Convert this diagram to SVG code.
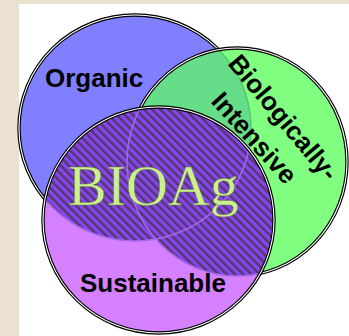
<svg xmlns="http://www.w3.org/2000/svg" width="349" height="336" viewBox="0 0 349 336">
  <style>
    .lbl { font-family: "Liberation Sans", Arial, sans-serif; font-weight: bold; font-size: 26px; fill: #000; }
    .outk { fill: none; stroke: #000; stroke-width: 3.4; }
    .outw { fill: none; stroke: #fff; stroke-width: 1.1; }
    .faint { fill: none; stroke-width: 1.6; }
  </style>
  <defs>
    <ellipse id="eB" cx="135" cy="128" rx="116" ry="113"/>
    <ellipse id="eG" cx="237" cy="162" rx="110" ry="114"/>
    <ellipse id="eP" cx="158.5" cy="220" rx="115.5" ry="113"/>
    <clipPath id="cG"><use href="#eG"/></clipPath>
    <clipPath id="cP"><use href="#eP"/></clipPath>
    <pattern id="hatch" patternUnits="userSpaceOnUse" width="5.8" height="5.8" patternTransform="rotate(-45)">
      <rect width="5.8" height="5.8" fill="#8844ee"/>
      <rect width="2.4" height="5.8" fill="#4f3a6a"/>
    </pattern>
  </defs>

  <rect width="349" height="336" fill="#eae1d0"/>
  <rect x="19" y="4" width="330" height="332" fill="#fff"/>

  <g id="organic">
    <use href="#eB" fill="#8080ff"/>
    <use href="#eB" class="outk"/>
    <use href="#eB" class="outw"/>
  </g>

  <g id="biologically-intensive">
    <use href="#eG" fill="#80ff80"/>
    <g clip-path="url(#cG)">
      <use href="#eB" fill="#66dd88"/>
      <use href="#eB" class="faint" stroke="#58c878"/>
    </g>
    <use href="#eG" class="outk"/>
    <use href="#eG" class="outw"/>
  </g>

  <g id="sustainable">
    <use href="#eP" fill="#d580ff"/>
    <g clip-path="url(#cP)">
      <use href="#eB" fill="url(#hatch)"/>
      <use href="#eG" fill="url(#hatch)"/>
      <use href="#eB" class="faint" stroke="#a468e6"/>
      <use href="#eG" class="faint" stroke="#a468e6"/>
    </g>
    <use href="#eP" class="outk"/>
    <use href="#eP" class="outw"/>
  </g>

  <g id="connectors"/>

  <g id="labels">
    <text class="lbl" x="45" y="87">Organic</text>
    <text class="lbl" x="80" y="292">Sustainable</text>
    <text class="lbl" transform="translate(227,64) rotate(50)">Biologically-</text>
    <text class="lbl" transform="translate(210,102) rotate(48)">Intensive</text>
    <text id="bioag" x="68" y="205" font-family="'Liberation Serif', 'Times New Roman', serif" font-size="58" fill="#ccf08c" stroke="#6a7a50" stroke-width="0.5">BIOAg</text>
  </g>
</svg>
